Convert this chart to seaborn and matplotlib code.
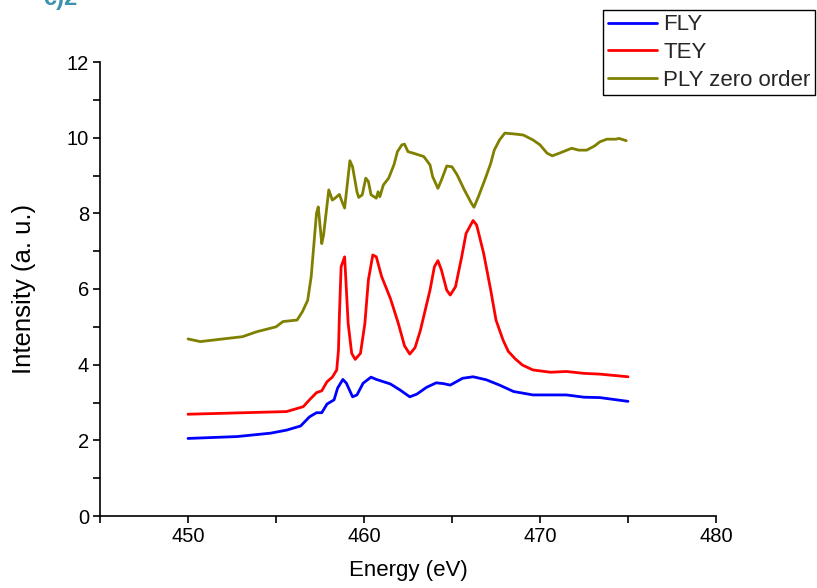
import numpy as np
import pandas as pd
import matplotlib
matplotlib.use("Agg")
import matplotlib.pyplot as plt
import seaborn as sns
from matplotlib.ticker import MultipleLocator

energy_fly = [450, 452.8, 454.7, 455.6, 456.4, 456.9, 457.3, 457.6, 457.9, 458.3, 458.5,
              458.8, 459.0, 459.35, 459.6, 459.95, 460.4, 460.7, 461.5, 462.05, 462.6,
              463.0, 463.55, 464.1, 464.5, 464.9, 465.6, 466.2, 466.95, 467.7, 468.5,
              469.6, 470.6, 471.5, 472.5, 473.4, 475.0]
fly = [2.05, 2.10, 2.19, 2.27, 2.38, 2.62, 2.73, 2.73, 2.96, 3.07, 3.38,
       3.61, 3.51, 3.15, 3.20, 3.51, 3.67, 3.61, 3.49, 3.33, 3.15,
       3.22, 3.40, 3.52, 3.50, 3.46, 3.64, 3.68, 3.60, 3.46, 3.29,
       3.20, 3.20, 3.20, 3.14, 3.13, 3.03]

energy_tey = [450, 455.6, 456.55, 456.9, 457.3, 457.6, 457.9, 458.2, 458.45, 458.55,
              458.6, 458.7, 458.9, 459.1, 459.3, 459.5, 459.8, 460.05, 460.25, 460.5,
              460.7, 461.0, 461.5, 461.95, 462.3, 462.6, 462.9, 463.2, 463.75, 464.0,
              464.2, 464.4, 464.7, 464.9, 465.2, 465.55, 465.8, 466.2, 466.4, 466.8,
              467.2, 467.5, 467.9, 468.2, 468.6, 469.0, 469.6, 470.6, 471.5, 472.5,
              473.4, 475.0]
tey = [2.69, 2.76, 2.89, 3.07, 3.26, 3.31, 3.55, 3.67, 3.86, 4.39,
       5.27, 6.59, 6.85, 5.09, 4.30, 4.14, 4.30, 5.09, 6.24, 6.90,
       6.85, 6.33, 5.75, 5.09, 4.50, 4.28, 4.45, 4.90, 5.97, 6.59,
       6.75, 6.50, 5.97, 5.84, 6.06, 6.85, 7.47, 7.81, 7.69, 6.94,
       5.97, 5.18, 4.65, 4.35, 4.15, 3.99, 3.86, 3.80, 3.82, 3.77,
       3.75, 3.68]

energy_ply = [450, 450.7, 451.8, 453.1, 453.9, 455.0, 455.4, 456.2, 456.5, 456.8, 457.0,
              457.3, 457.4, 457.6, 457.7, 458.0, 458.2, 458.35, 458.6, 458.75, 458.9,
              459.2, 459.35, 459.6, 459.7, 459.9, 460.1, 460.25, 460.4, 460.7, 460.8,
              460.9, 461.1, 461.4, 461.7, 461.9, 462.15, 462.3, 462.5, 462.8, 463.4,
              463.75, 463.9, 464.2, 464.4, 464.7, 465.0, 465.3, 465.7, 466.1, 466.25,
              466.5, 466.9, 467.2, 467.4, 467.7, 468.0, 468.5, 469.05, 469.6, 470.0,
              470.4, 470.7, 471.1, 471.8, 472.2, 472.65, 473.1, 473.4, 473.8, 474.3,
              474.5, 474.9]
ply = [4.68, 4.61, 4.67, 4.74, 4.87, 5.00, 5.14, 5.18, 5.40, 5.70, 6.33,
       8.00, 8.17, 7.20, 7.42, 8.62, 8.35, 8.40, 8.50, 8.31, 8.14,
       9.39, 9.23, 8.57, 8.42, 8.49, 8.93, 8.84, 8.49, 8.40, 8.57,
       8.44, 8.75, 8.93, 9.28, 9.63, 9.81, 9.83, 9.63, 9.59, 9.50,
       9.28, 8.97, 8.66, 8.88, 9.25, 9.23, 9.01, 8.62, 8.27, 8.16,
       8.44, 8.93, 9.32, 9.67, 9.94, 10.12, 10.10, 10.07, 9.94, 9.81,
       9.59, 9.52, 9.59, 9.72, 9.67, 9.67, 9.78, 9.89, 9.96, 9.96,
       9.98, 9.92]

series_names = ["FLY", "TEY", "PLY zero order"]
series_colors = ["#0000ff", "#ff0000", "#808000"]

frames = []
for name, ex, ys in zip(series_names, [energy_fly, energy_tey, energy_ply], [fly, tey, ply]):
    frames.append(pd.DataFrame({"Energy": ex, "Intensity": ys, "Series": name}))
df = pd.concat(frames, ignore_index=True)

sns.set_theme(style="ticks")
plt.rcParams["font.family"] = ["Liberation Sans", "DejaVu Sans"]

fig = plt.figure(figsize=(8.17, 5.88), dpi=100)
ax = fig.add_axes([100 / 817, 1 - 516 / 588, 616 / 817, 454 / 588])

sns.lineplot(data=df, x="Energy", y="Intensity", hue="Series", hue_order=series_names,
             palette=dict(zip(series_names, series_colors)), estimator=None, sort=False,
             linewidth=2.0, ax=ax, legend=True)

ax.set_xlim(445, 480)
ax.set_ylim(0, 12)
ax.xaxis.set_major_locator(MultipleLocator(10))
ax.xaxis.set_minor_locator(MultipleLocator(5))
ax.yaxis.set_major_locator(MultipleLocator(2))
ax.yaxis.set_minor_locator(MultipleLocator(1))
ax.set_xticks([450, 460, 470, 480])
ax.tick_params(axis="both", which="both", direction="out", length=5, width=1.2,
               color="black", labelsize=14.5, labelcolor="black", pad=3)
for s in ["top", "right"]:
    ax.spines[s].set_visible(False)
for s in ["left", "bottom"]:
    ax.spines[s].set_color("black")
    ax.spines[s].set_linewidth(1.2)

ax.set_xlabel("Energy (eV)", fontsize=16, color="black", labelpad=10)
ax.set_ylabel("Intensity (a. u.)", fontsize=18.5, color="black", labelpad=22)

leg = ax.legend(title=None, loc="upper right", bbox_to_anchor=(815 / 817, 1 - 10 / 588),
                bbox_transform=fig.transFigure, fontsize=16, frameon=True, fancybox=False,
                edgecolor="black", framealpha=1, borderpad=0.2, labelspacing=0.3,
                handlelength=2.2, handletextpad=0.3, borderaxespad=0)
leg.get_frame().set_linewidth(1.0)
for line in leg.get_lines():
    line.set_linewidth(2)

fig.text(43 / 817, 1 - 5 / 588, "c)2", color="#3a93ad", fontsize=17, fontweight="bold",
         va="baseline", ha="left")

fig.savefig("out.png", dpi=100)
